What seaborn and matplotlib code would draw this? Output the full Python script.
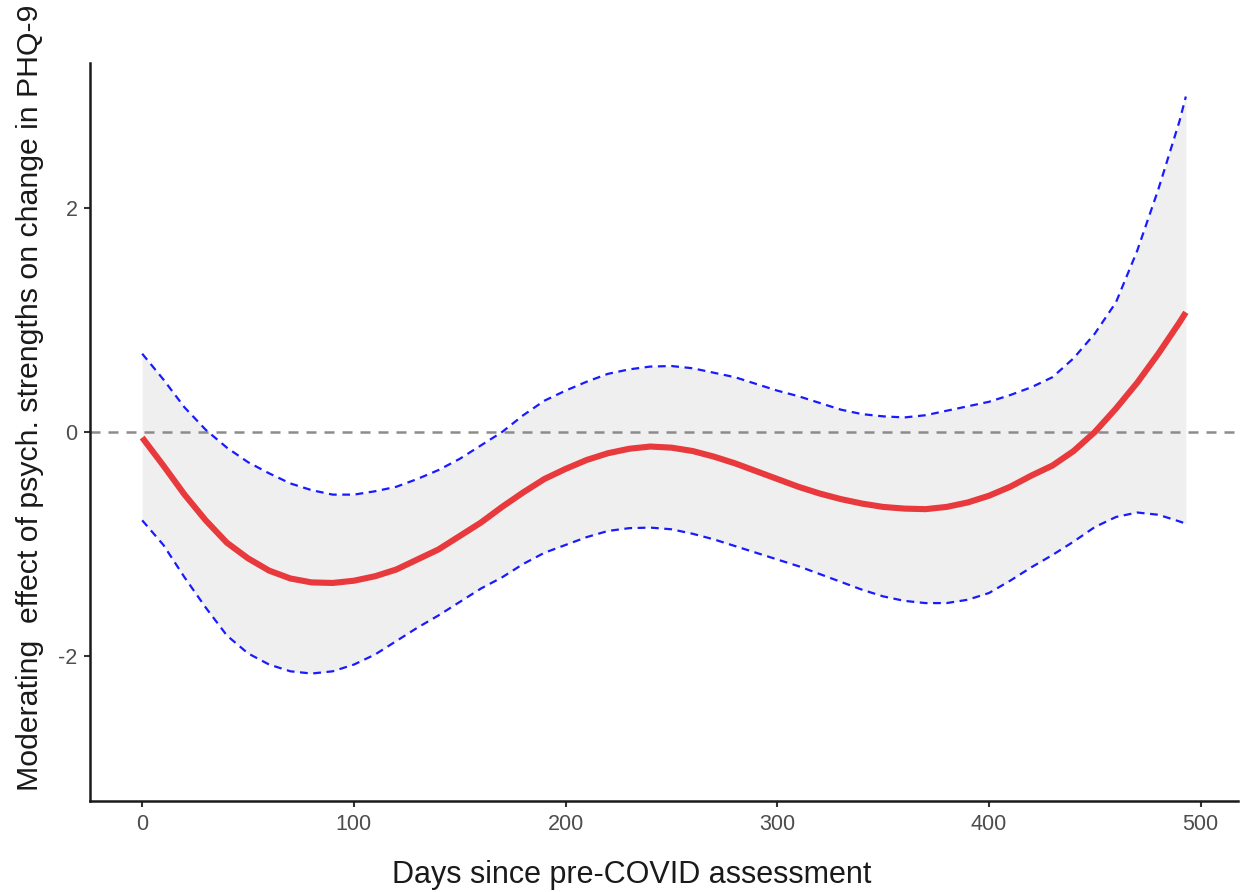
import numpy as np
import pandas as pd
import matplotlib
matplotlib.use("Agg")
import matplotlib.pyplot as plt
import seaborn as sns

# Days since the pre-COVID assessment at which the effect was evaluated
days = [0, 10, 20, 30, 40, 50, 60, 70, 80, 90, 100, 110, 120, 130, 140, 150,
        160, 170, 180, 190, 200, 210, 220, 230, 240, 250, 260, 270, 280, 290,
        300, 310, 320, 330, 340, 350, 360, 370, 380, 390, 400, 410, 420, 430,
        440, 450, 460, 470, 480, 490, 493]

# Estimated moderating effect
effect = [-0.05, -0.30, -0.56, -0.79, -0.99, -1.13, -1.24, -1.31, -1.345, -1.35,
          -1.33, -1.29, -1.23, -1.14, -1.05, -0.93, -0.81, -0.67, -0.54, -0.42,
          -0.33, -0.25, -0.19, -0.15, -0.13, -0.14, -0.17, -0.22, -0.28, -0.35,
          -0.42, -0.49, -0.55, -0.60, -0.64, -0.67, -0.685, -0.69, -0.67, -0.63,
          -0.57, -0.49, -0.39, -0.30, -0.17, 0.00, 0.21, 0.44, 0.70, 0.98, 1.07]

# Upper confidence bound
upper = [0.70, 0.47, 0.22, 0.02, -0.14, -0.27, -0.37, -0.46, -0.52, -0.56,
         -0.56, -0.53, -0.49, -0.42, -0.34, -0.24, -0.12, 0.00, 0.15, 0.28,
         0.37, 0.45, 0.52, 0.56, 0.585, 0.59, 0.57, 0.53, 0.49, 0.43,
         0.37, 0.32, 0.26, 0.20, 0.16, 0.14, 0.13, 0.15, 0.19, 0.23,
         0.27, 0.33, 0.40, 0.49, 0.66, 0.88, 1.16, 1.62, 2.17, 2.78, 3.00]

# Lower confidence bound
lower = [-0.79, -1.01, -1.30, -1.57, -1.82, -1.98, -2.08, -2.14, -2.16, -2.14,
         -2.08, -1.99, -1.87, -1.75, -1.64, -1.52, -1.40, -1.30, -1.18, -1.08,
         -1.01, -0.94, -0.885, -0.86, -0.855, -0.87, -0.91, -0.96, -1.02, -1.08,
         -1.14, -1.20, -1.27, -1.34, -1.41, -1.47, -1.51, -1.53, -1.53, -1.50,
         -1.44, -1.33, -1.21, -1.10, -0.98, -0.85, -0.76, -0.72, -0.74, -0.80, -0.82]

x_ticks = [0, 100, 200, 300, 400, 500]
y_ticks = [-2, 0, 2]

df = pd.DataFrame({"days": days, "effect": effect, "upper": upper, "lower": lower})

sns.set_theme(style="ticks")
plt.rcParams["font.family"] = ["Liberation Sans", "DejaVu Sans"]
plt.rcParams["axes.unicode_minus"] = False

fig = plt.figure(figsize=(12.45, 8.92), dpi=100)
ax = fig.add_axes([0.0723, 0.102, 0.9221, 0.8274])

ax.fill_between(df["days"], df["lower"], df["upper"], color="#efefef", lw=0, zorder=1)
ax.axhline(0, color="#8c8c8c", lw=1.8, linestyle=(0, (4, 3.2)), zorder=2)

sns.lineplot(data=df, x="days", y="upper", ax=ax, color="#1a1aff", lw=1.6,
             linestyle=(0, (3.5, 2.5)), zorder=3)
sns.lineplot(data=df, x="days", y="lower", ax=ax, color="#1a1aff", lw=1.6,
             linestyle=(0, (3.5, 2.5)), zorder=3)
sns.lineplot(data=df, x="days", y="effect", ax=ax, color="#e8393c", lw=4.4,
             zorder=4, solid_capstyle="butt", solid_joinstyle="round")

ax.set_xlim(-24.65, 517.65)
ax.set_ylim(-3.3, 3.3)
ax.set_xticks(x_ticks)
ax.set_yticks(y_ticks)

for side in ("top", "right"):
    ax.spines[side].set_visible(False)
for side in ("left", "bottom"):
    ax.spines[side].set_color("#1a1a1a")
    ax.spines[side].set_linewidth(1.8)

ax.tick_params(axis="both", length=4, width=1.5, color="#333333",
               labelsize=15.5, labelcolor="#4d4d4d", pad=5)

ax.set_xlabel("Days since pre-COVID assessment", fontsize=22, color="#1a1a1a")
ax.xaxis.set_label_coords(0.472, -0.080)
ax.set_ylabel("Moderating  effect of psych. strengths on change in PHQ-9",
              fontsize=21.8, color="#1a1a1a")
ax.yaxis.set_label_coords(-0.040, 0.546)

fig.savefig("out.png", dpi=100, facecolor="white")
